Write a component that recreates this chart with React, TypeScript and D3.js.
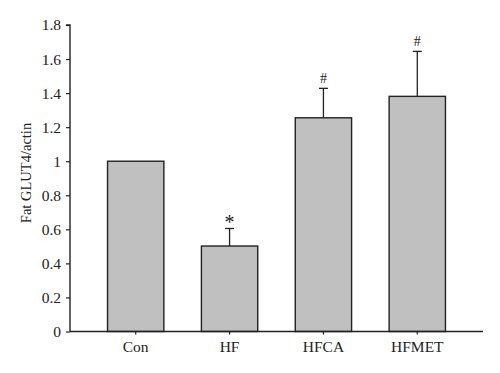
import React from "react";
import * as d3 from "d3";

const groups = ["Con", "HF", "HFCA", "HFMET"];
const means = [1.0, 0.502, 1.255, 1.381];
const errors = [0, 0.103, 0.173, 0.264];
const marks = ["", "*", "#", "#"];
const yTicks = [0, 0.2, 0.4, 0.6, 0.8, 1, 1.2, 1.4, 1.6, 1.8];

export default function App() {
  const svgRef = React.useRef<SVGSVGElement>(null);
  const width = 500;
  const height = 373;
  const margin = { left: 70, right: 17, top: 25, bottom: 41.5 };

  React.useEffect(() => {
    const svg = d3.select(svgRef.current);
    svg.selectAll("*").remove();

    const x = d3.scaleBand()
      .domain(groups)
      .range([margin.left, width - margin.right])
      .paddingInner(0.4)
      .paddingOuter(0.4);

    const y = d3.scaleLinear()
      .domain([0, 1.8])
      .range([height - margin.bottom, margin.top]);

    const font = "'Liberation Serif', 'Times New Roman', serif";
    const ink = "#222";

    // bars
    svg.append("g")
      .selectAll("rect")
      .data(groups)
      .enter()
      .append("rect")
      .attr("x", d => x(d)!)
      .attr("y", (d, i) => y(means[i]))
      .attr("width", x.bandwidth())
      .attr("height", (d, i) => y(0) - y(means[i]))
      .attr("fill", "#c0c0c0")
      .attr("stroke", ink)
      .attr("stroke-width", 1.4);

    // error bars (upper only)
    const eb = svg.append("g").attr("stroke", ink).attr("stroke-width", 1.3);
    groups.forEach((g, i) => {
      if (!errors[i]) return;
      const cx = x(g)! + x.bandwidth() / 2;
      eb.append("line")
        .attr("x1", cx).attr("x2", cx)
        .attr("y1", y(means[i])).attr("y2", y(means[i] + errors[i]));
      eb.append("line")
        .attr("x1", cx - 4.5).attr("x2", cx + 4.5)
        .attr("y1", y(means[i] + errors[i])).attr("y2", y(means[i] + errors[i]));
    });

    // significance marks
    svg.append("g")
      .selectAll("text")
      .data(groups)
      .enter()
      .append("text")
      .attr("x", d => x(d)! + x.bandwidth() / 2)
      .attr("y", (d, i) => y(means[i] + errors[i]) - (marks[i] === "*" ? -1 : 5))
      .attr("text-anchor", "middle")
      .attr("font-family", font)
      .attr("font-size", (d, i) => (marks[i] === "*" ? 20 : 14))
      .attr("fill", ink)
      .text((d, i) => marks[i]);

    // y axis
    const yAxis = d3.axisLeft(y)
      .tickValues(yTicks)
      .tickFormat(d => d3.format("")(+d))
      .tickSize(4)
      .tickPadding(5);
    const yg = svg.append("g")
      .attr("transform", `translate(${margin.left},0)`)
      .call(yAxis);
    yg.select(".domain").attr("stroke", ink).attr("stroke-width", 1.4)
      .attr("d", `M-4,${y(1.8)}H0V${y(0)}`);
    yg.selectAll("line").attr("stroke", ink).attr("stroke-width", 1.2);
    yg.selectAll("text")
      .attr("font-family", font)
      .attr("font-size", 15.5)
      .attr("fill", ink);

    // x axis
    const xAxis = d3.axisBottom(x).tickSize(3).tickPadding(6);
    const xg = svg.append("g")
      .attr("transform", `translate(0,${y(0)})`)
      .call(xAxis);
    xg.select(".domain").attr("stroke", ink).attr("stroke-width", 1.4)
      .attr("d", `M${margin.left},0H${width - margin.right}`);
    xg.selectAll("line").attr("stroke", ink).attr("stroke-width", 1.2);
    xg.selectAll("text")
      .attr("font-family", font)
      .attr("font-size", 15.5)
      .attr("fill", ink);

    // y label
    svg.append("text")
      .attr("transform", `translate(31,173) rotate(-90)`)
      .attr("text-anchor", "middle")
      .attr("font-family", font)
      .attr("font-size", 14.5)
      .attr("fill", ink)
      .text("Fat GLUT4/actin");
  }, []);

  return (
    <svg
      ref={svgRef}
      width={width}
      height={height}
      style={{ position: "absolute", left: 0, top: 0, background: "#fff" }}
    />
  );
}
